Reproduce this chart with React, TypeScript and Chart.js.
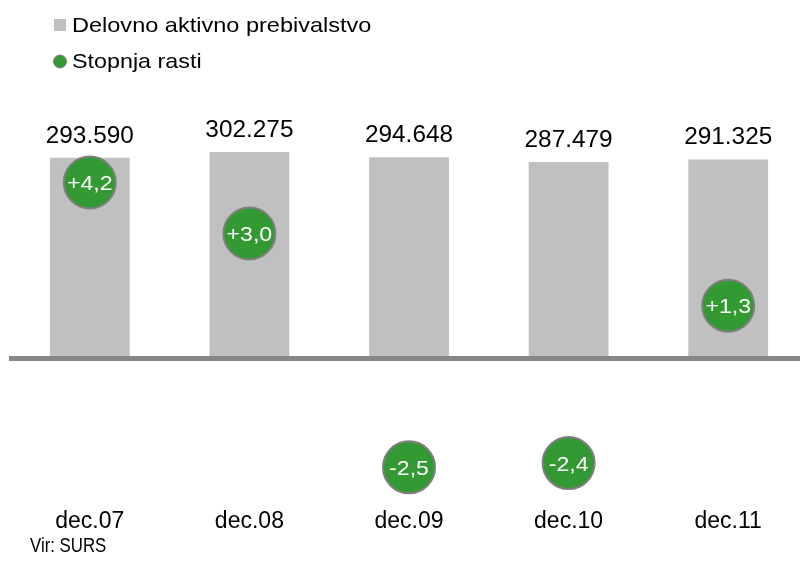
import React, { useEffect, useRef } from 'react';
import { Chart, registerables } from 'chart.js';

Chart.register(...registerables);

const categories = ['dec.07', 'dec.08', 'dec.09', 'dec.10', 'dec.11'];
const workforce = [293590, 302275, 294648, 287479, 291325];
const growth = [4.2, 3.0, -2.5, -2.4, 1.3];
const legendLabels = ['Delovno aktivno prebivalstvo', 'Stopnja rasti'];
const sourceText = 'Vir: SURS';

const BAR_COLOR = '#C0C0C0';
const DOT_COLOR = '#339933';
const DOT_BORDER = '#7f7f7f';
const FONT = '"Liberation Sans", Arial, sans-serif';

const fmtThousands = (v: number) => String(v).replace(/\B(?=(\d{3})+(?!\d))/g, '.');
const fmtGrowth = (v: number) => (v > 0 ? '+' : '') + v.toFixed(1).replace('.', ',');

function drawText(
  ctx: CanvasRenderingContext2D,
  text: string,
  x: number,
  y: number,
  size: number,
  sx: number,
  align: CanvasTextAlign,
  baseline: CanvasTextBaseline,
  color: string
) {
  ctx.save();
  ctx.font = `${size}px ${FONT}`;
  ctx.fillStyle = color;
  ctx.textAlign = align;
  ctx.textBaseline = baseline;
  ctx.translate(x, y);
  ctx.scale(sx, 1);
  ctx.fillText(text, 0, 0);
  ctx.restore();
}

const overlay = {
  id: 'overlay',
  beforeDatasetsDraw(chart: any) {
    const ctx = chart.ctx;
    const y0 = chart.scales.y.getPixelForValue(0);
    ctx.save();
    ctx.fillStyle = '#878787';
    ctx.fillRect(9, Math.round(y0), 820, 5);
    ctx.restore();
  },
  afterDatasetsDraw(chart: any) {
    const ctx = chart.ctx;
    const barMeta = chart.getDatasetMeta(1);
    barMeta.data.forEach((el: any, i: number) => {
      drawText(ctx, fmtThousands(workforce[i]), el.x, el.y - 15, 23, 1.06, 'center', 'alphabetic', '#000');
    });
    const dotMeta = chart.getDatasetMeta(0);
    dotMeta.data.forEach((el: any, i: number) => {
      drawText(ctx, fmtGrowth(growth[i]), el.x, el.y + 7.5, 21, 1.1, 'center', 'alphabetic', '#fff');
    });
    const xs = chart.scales.x;
    categories.forEach((c, i) => {
      drawText(ctx, c, xs.getPixelForValue(i), 528, 23, 1.0, 'center', 'alphabetic', '#000');
    });
    drawText(ctx, sourceText, 30, 552, 21, 0.8, 'left', 'alphabetic', '#000');
    // legend
    ctx.save();
    ctx.fillStyle = BAR_COLOR;
    ctx.fillRect(54, 19, 12, 12);
    ctx.beginPath();
    ctx.arc(60, 61.5, 6.5, 0, Math.PI * 2);
    ctx.fillStyle = DOT_COLOR;
    ctx.fill();
    ctx.lineWidth = 1;
    ctx.strokeStyle = DOT_BORDER;
    ctx.stroke();
    ctx.restore();
    drawText(ctx, legendLabels[0], 72, 31.5, 21, 1.12, 'left', 'alphabetic', '#000');
    drawText(ctx, legendLabels[1], 72, 68, 21, 1.11, 'left', 'alphabetic', '#000');
  },
};

export default function App() {
  const ref = useRef<HTMLCanvasElement | null>(null);
  useEffect(() => {
    if (!ref.current) return;
    const chart = new Chart(ref.current, {
      type: 'bar',
      data: {
        labels: categories,
        datasets: [
          {
            type: 'line',
            label: legendLabels[1],
            data: growth,
            yAxisID: 'y1',
            showLine: false,
            pointRadius: 26,
            pointHoverRadius: 26,
            pointBackgroundColor: DOT_COLOR,
            pointBorderColor: DOT_BORDER,
            pointBorderWidth: 2,
            clip: false,
            order: 0,
          } as any,
          {
            type: 'bar',
            label: legendLabels[0],
            data: workforce,
            yAxisID: 'y',
            backgroundColor: BAR_COLOR,
            barPercentage: 0.5,
            categoryPercentage: 1,
            order: 1,
          },
        ],
      },
      options: {
        responsive: false,
        animation: false,
        devicePixelRatio: 1,
        events: [],
        layout: { autoPadding: false, padding: { left: 10, right: 2, top: 86, bottom: 55 } },
        plugins: { legend: { display: false }, tooltip: { enabled: false }, title: { display: false } },
        scales: {
          x: { type: 'category', display: false, offset: true },
          y: { type: 'linear', display: false, min: -222000, max: 400000 },
          y1: { type: 'linear', display: false, min: -3.41, max: 6.47 },
        },
      },
      plugins: [overlay],
    });
    return () => chart.destroy();
  }, []);
  return (
    <div style={{ position: 'fixed', left: 0, top: 0, width: 800, height: 561, overflow: 'hidden', background: '#fff' }}>
      <canvas ref={ref} width={810} height={561} style={{ display: 'block', width: 810, height: 561 }} />
    </div>
  );
}
